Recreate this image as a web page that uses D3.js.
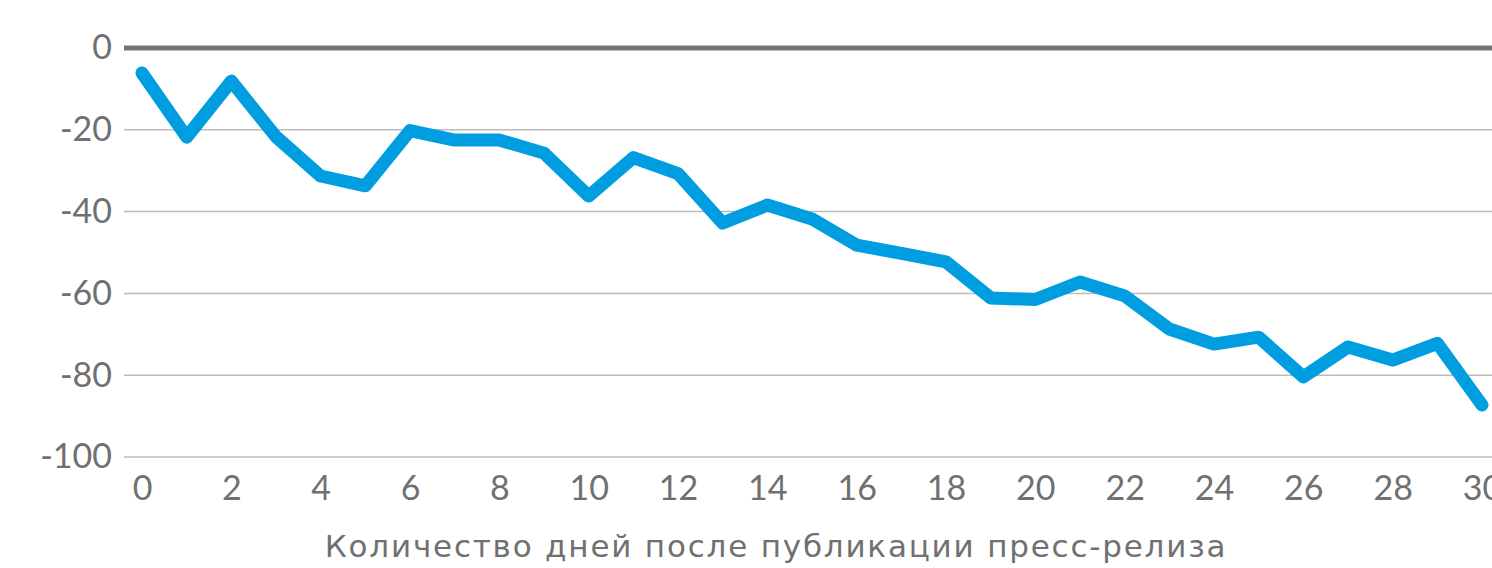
<!DOCTYPE html>
<html>
<head>
<meta charset="utf-8">
<script src="https://cdn.jsdelivr.net/npm/d3@7"></script>
<style>
  body { margin: 0; background: #fff; }
  svg { display: block; font-family: Lato, "Noto Sans", sans-serif; }
</style>
</head>
<body>
<div class="container"></div>
<script>
    const days = d3.range(0, 31)
    const values = [-6.1, -21.8, -8.1, -21.7, -31.3, -33.7, -20.2, -22.5, -22.5, -25.7,
        -36.2, -26.8, -30.7, -42.8, -38.4, -41.8, -48.2, -50.2, -52.3, -61.1,
        -61.5, -57.2, -60.6, -68.7, -72.4, -70.7, -80.4, -73.1, -76.3, -72.2, -87.3]
    const xTicks = d3.range(0, 31, 2)
    const yTicks = [0, -20, -40, -60, -80, -100]
    const xTitle = "Количество дней после публикации пресс-релиза"

    const width = 1492
    const height = 568
    const plotLeft = 124

    let svg = d3.select(".container")
        .append("svg")
        .attr("width", width)
        .attr("height", height)
        .attr("viewBox", [0, 0, width, height])

    let xScale = d3.scaleLinear()
        .domain([0, 30])
        .range([142, 1482])

    let yScale = d3.scaleLinear()
        .domain([-100, 0])
        .range([457, 48])

    // grid lines
    svg.append("g")
        .selectAll("line")
        .data(yTicks.filter(d => d !== 0))
        .join("line")
        .attr("x1", plotLeft)
        .attr("x2", width)
        .attr("y1", d => yScale(d))
        .attr("y2", d => yScale(d))
        .attr("stroke", "#bcbcbc")
        .attr("stroke-width", 1.5)

    // y axis labels (plain hyphen as in the original)
    let yAxis = svg.append("g")
        .attr("transform", `translate(${plotLeft}, 0)`)
        .call(d3.axisLeft(yScale).tickValues(yTicks).tickFormat(d => String(d)).tickSize(0).tickPadding(12))
    yAxis.select(".domain").remove()
    yAxis.selectAll("text")
        .attr("fill", "#707070")
        .style("font-size", "34px")
        .style("font-family", "Lato, 'Noto Sans', sans-serif")

    // x axis labels
    let xAxis = svg.append("g")
        .attr("transform", `translate(0, ${yScale(-100)})`)
        .call(d3.axisBottom(xScale).tickValues(xTicks).tickFormat(d => String(d)).tickSize(0).tickPadding(19))
    xAxis.select(".domain").remove()
    xAxis.selectAll("text")
        .attr("fill", "#707070")
        .style("font-size", "34px")
        .style("font-family", "Lato, 'Noto Sans', sans-serif")

    // zero line
    svg.append("line")
        .attr("x1", plotLeft)
        .attr("x2", width)
        .attr("y1", yScale(0))
        .attr("y2", yScale(0))
        .attr("stroke", "#747474")
        .attr("stroke-width", 5)

    // series
    let line = d3.line()
        .x((d, i) => xScale(days[i]))
        .y(d => yScale(d))

    svg.append("path")
        .datum(values)
        .attr("d", line)
        .attr("fill", "none")
        .attr("stroke", "#009ee0")
        .attr("stroke-width", 13)
        .attr("stroke-linejoin", "round")
        .attr("stroke-linecap", "round")

    svg.append("text")
        .attr("x", 776)
        .attr("y", 557)
        .attr("text-anchor", "middle")
        .attr("fill", "#707070")
        .style("font-family", "'DejaVu Sans', sans-serif")
        .style("font-size", "31px")
        .style("letter-spacing", "1.8px")
        .text(xTitle)
</script>
</body>
</html>
